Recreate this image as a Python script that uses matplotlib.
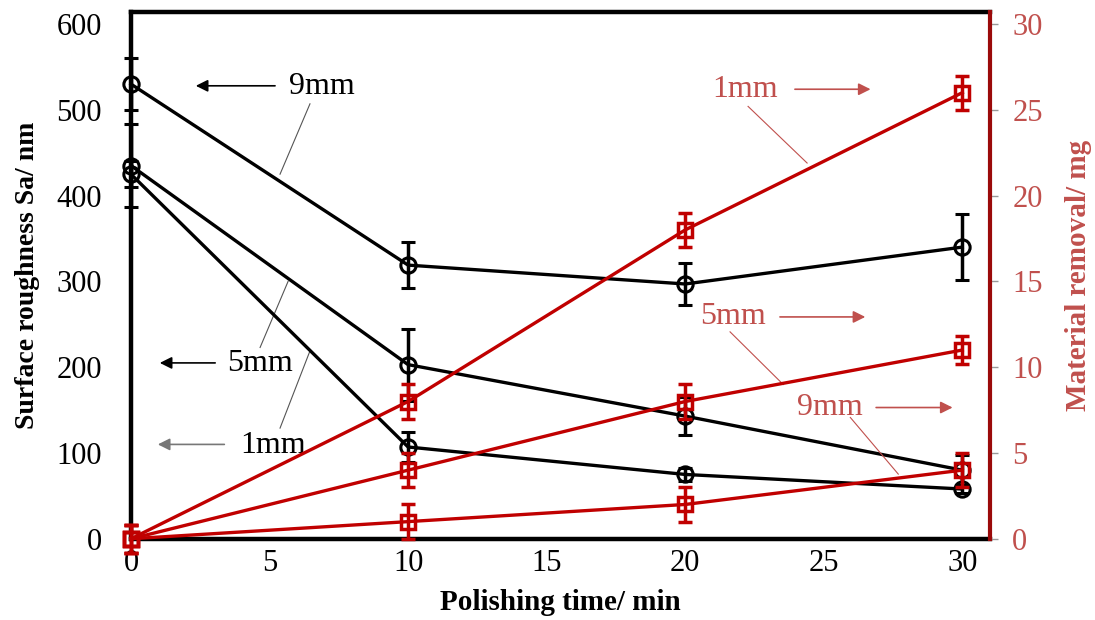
import matplotlib
matplotlib.use("Agg")
import matplotlib.pyplot as plt

plt.rcParams['font.family'] = ['Liberation Serif', 'DejaVu Serif']

# polishing time (min)
time = [0, 10, 20, 30]

# surface roughness Sa (nm) and std for each abrasive size
sa_9mm = [530, 319, 297, 340]
sa_9mm_err = [30, 27, 25, 38]
sa_5mm = [435, 203, 143, 80]
sa_5mm_err = [48, 42, 22, 18]
sa_1mm = [425, 107, 75, 58]
sa_1mm_err = [15, 17, 8, 5]

# material removal (mg) and std
mr_1mm = [0, 8, 18, 26]
mr_1mm_err = [0.8, 1.0, 1.0, 1.0]
mr_5mm = [0, 4, 8, 11]
mr_5mm_err = [0.8, 1.0, 1.0, 0.8]
mr_9mm = [0, 1, 2, 4]
mr_9mm_err = [0.8, 1.0, 1.0, 1.0]

RED = '#c00000'
LIGHT_RED = '#c0504d'
SPINE_RED = '#9b0a0a'

fig = plt.figure(figsize=(10.95, 6.2), dpi=100)
ax = fig.add_axes([0.1196, 0.131, 0.7845, 0.8496])
ax2 = ax.twinx()

err_kw = dict(capsize=5, capthick=2.5, elinewidth=2.5, lw=2.4,
              mfc='none', clip_on=False, zorder=3)

for y, e in [(sa_9mm, sa_9mm_err), (sa_5mm, sa_5mm_err), (sa_1mm, sa_1mm_err)]:
    ax.errorbar(time, y, yerr=e, color='black', marker='o', ms=11, mew=2.2, **err_kw)

for y, e in [(mr_1mm, mr_1mm_err), (mr_5mm, mr_5mm_err), (mr_9mm, mr_9mm_err)]:
    ax2.errorbar(time, y, yerr=e, color=RED, marker='s', ms=10, mew=2.5, **err_kw)

ax.set_xlim(0, 31)
ax.set_ylim(0, 614)
ax2.set_ylim(0, 30.7)
ax.set_xticks([0, 5, 10, 15, 20, 25, 30])
ax.set_yticks(range(0, 601, 100))
ax2.set_yticks(range(0, 31, 5))

for s in ['left', 'bottom', 'top']:
    ax.spines[s].set_linewidth(3.2)
    ax.spines[s].set_color('black')
ax.spines['right'].set_visible(False)
for s in ['left', 'bottom', 'top']:
    ax2.spines[s].set_visible(False)
ax2.spines['right'].set_color(SPINE_RED)
ax2.spines['right'].set_linewidth(3)

ax.tick_params(axis='x', length=0, labelsize=22, pad=7)
ax.tick_params(axis='y', length=0, labelsize=22, pad=21)
ax2.tick_params(axis='y', direction='out', length=6, width=1, color='#999999',
                labelcolor=LIGHT_RED, labelsize=22, pad=10)

ax.set_xlabel('Polishing time/ min', fontsize=21, fontweight='bold', labelpad=8)
ax.set_ylabel('Surface roughness Sa/ nm', fontsize=20, fontweight='bold', labelpad=12)
ax2.set_ylabel('Material removal/ mg', fontsize=21, fontweight='bold',
               color=LIGHT_RED, labelpad=16)

# labels for the roughness curves (left axis)
left_notes = [
    ('9mm', (6.9, 527), (5.3, 2.24), (6.46, 507), (5.38, 425), 'black'),
    ('5mm', (4.66, 204), (3.14, 0.94), (4.66, 223), (5.67, 300), 'black'),
    ('1mm', (5.13, 109), (3.47, 0.87), (5.38, 129), (6.46, 219), '#777777'),
]
for txt, (tx, ty), (a0, a1), p0, p1, c in left_notes:
    ax.text(tx, ty, txt, fontsize=23, ha='center', va='center', zorder=4)
    ax.annotate('', xy=(a1, ty + 1), xytext=(a0, ty + 1),
                arrowprops=dict(arrowstyle='-|>', color=c, lw=1.2,
                                mutation_scale=18))
    ax.plot([p0[0], p1[0]], [p0[1], p1[1]], color='#555555', lw=0.8, zorder=1)

# labels for the removal curves (right axis)
right_notes = [
    ('1mm', (22.17, 26.2), (23.86, 26.79), (22.27, 25.2), (24.4, 21.9)),
    ('5mm', (21.73, 12.93), (23.32, 26.6), (21.62, 12.06), (23.54, 8.99)),
    ('9mm', (25.23, 7.65), (26.79, 29.75), (25.96, 7.07), (27.69, 3.77)),
]
for txt, (tx, ty), (a0, a1), p0, p1 in right_notes:
    ax2.text(tx, ty, txt, fontsize=23, ha='center', va='center',
             color=LIGHT_RED, zorder=4)
    ax2.annotate('', xy=(a1, ty), xytext=(a0, ty),
                 arrowprops=dict(arrowstyle='-|>', color=LIGHT_RED, lw=1.2,
                                 mutation_scale=18))
    ax2.plot([p0[0], p1[0]], [p0[1], p1[1]], color=LIGHT_RED, lw=0.8, zorder=1)

fig.savefig('out.png', dpi=100)
